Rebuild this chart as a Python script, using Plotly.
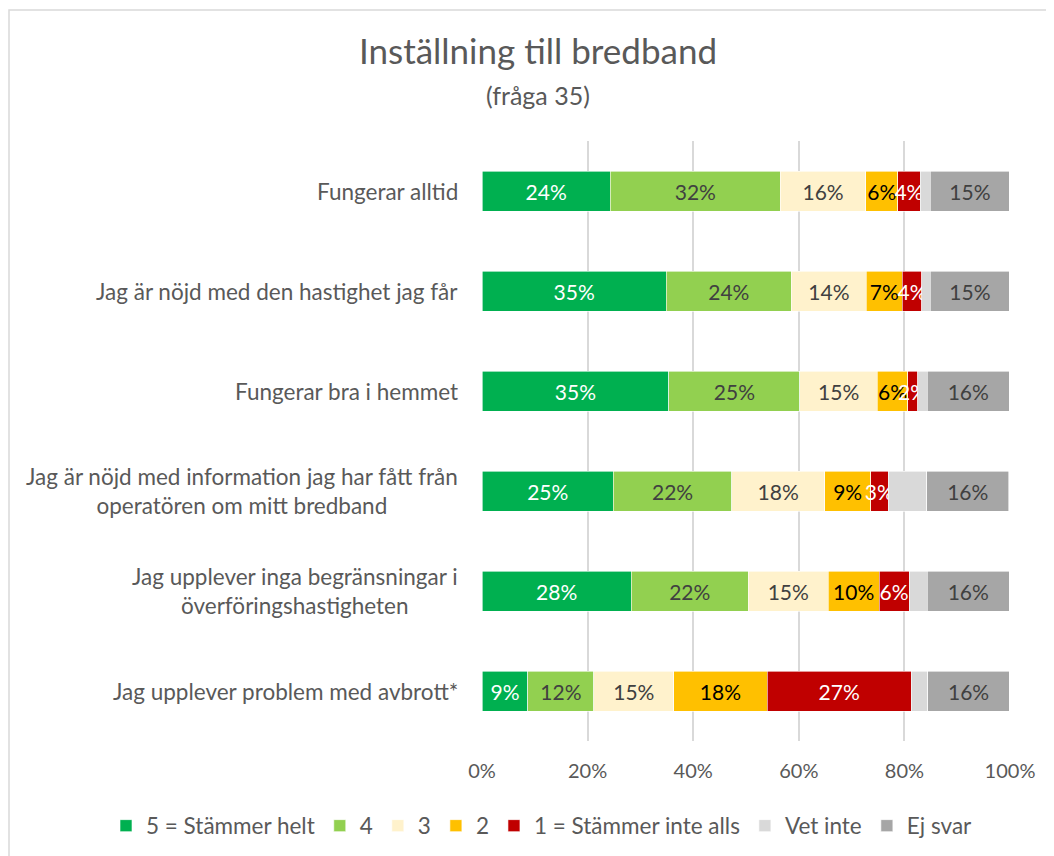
import plotly.graph_objects as go

# Data (percent of respondents)
categories = [
    "Fungerar alltid",
    "Jag är nöjd med den hastighet jag får",
    "Fungerar bra i hemmet",
    "Jag är nöjd med information jag har fått från<br>operatören om mitt bredband",
    "Jag upplever inga begränsningar i<br>överföringshastigheten",
    "Jag upplever problem med avbrott*",
]

s5 = [24.3, 34.9, 35.4, 24.9, 28.3, 8.7]
s4 = [32.2, 23.7, 24.8, 22.4, 22.1, 12.5]
s3 = [16.2, 14.2, 14.7, 17.6, 15.2, 15.1]
s2 = [6.0, 6.8, 5.7, 8.7, 9.6, 17.7]
s1 = [4.3, 3.7, 1.9, 3.3, 5.7, 27.3]
vet_inte = [1.9, 1.6, 1.8, 7.3, 3.4, 3.1]
ej_svar = [15.0, 15.0, 15.6, 15.6, 15.6, 15.5]

series = [
    ("5 = Stämmer helt", s5, "#00B050", "white", True),
    ("4", s4, "#92D050", "#404040", True),
    ("3", s3, "#FFF2CC", "#404040", True),
    ("2", s2, "#FFC000", "black", True),
    ("1 = Stämmer inte alls", s1, "#C00000", "white", True),
    ("Vet inte", vet_inte, "#D9D9D9", "#404040", False),
    ("Ej svar", ej_svar, "#A6A6A6", "#404040", True),
]

FONT = "Lato, Carlito, Calibri, sans-serif"
# page body has an 8px margin, so the figure is 8px smaller each way
W, H = 1046, 848
L, R, T, B = 474, 44, 133, 115
PW, PH = W - L - R, H - T - B

fig = go.Figure()
for name, vals, color, tcolor, show_text in series:
    fig.add_trace(go.Bar(
        y=categories, x=vals, name=name, orientation="h",
        marker=dict(color=color, line=dict(color="white", width=0.6)),
        text=[f"{round(v)}%" for v in vals] if show_text else None,
        textposition="inside" if show_text else "none",
        insidetextanchor="middle",
        textangle=0,
        textfont=dict(color=tcolor, size=21, family=FONT),
        cliponaxis=False,
        hovertemplate="%{y}: %{x}%<extra>" + name + "</extra>",
    ))

# category labels as centred annotations (multi-line labels are centred in the reference)
annotations = [dict(x=(452 - L) / PW, xref="paper", y=c, yref="y", text=c,
                    showarrow=False, xanchor="right", align="center",
                    font=dict(size=22.5, color="#595959", family=FONT))
               for c in categories]
annotations.append(dict(x=0.5, xref="paper", y=1 + (T - 87) / PH, yref="paper",
                        text="(fråga 35)", showarrow=False, yanchor="middle",
                        xshift=530 - (L + PW / 2),
                        font=dict(size=25, color="#595959", family=FONT)))

fig.update_layout(
    barmode="stack",
    bargap=0.6,
    width=W, height=H,
    paper_bgcolor="white", plot_bgcolor="white",
    font=dict(family=FONT, size=20, color="#595959"),
    margin=dict(l=L, r=R, t=T, b=B, autoexpand=False),
    uniformtext=dict(minsize=21, mode="show"),
    title=dict(
        text="Inställning till bredband",
        x=530 / W, xanchor="center", xref="container",
        y=1 - 44 / H, yanchor="middle", yref="container",
        font=dict(size=35, color="#595959", family=FONT),
    ),
    legend=dict(
        orientation="h", x=(98 - L) / PW, xref="paper", xanchor="left",
        y=-(818 - (T + PH)) / PH, yref="paper", yanchor="middle",
        font=dict(size=22.5, color="#595959"),
        traceorder="normal",
        itemwidth=30,
    ),
    xaxis=dict(
        range=[0, 100], tickvals=[0, 20, 40, 60, 80, 100],
        ticktext=["0%", "20%", "40%", "60%", "80%", "100%"],
        showgrid=True, gridcolor="#D9D9D9", gridwidth=1.5,
        zeroline=False, ticks="", ticklabelstandoff=16,
        automargin=False, fixedrange=True,
    ),
    yaxis=dict(
        autorange="reversed", ticks="", showgrid=False,
        showticklabels=False, automargin=False,
    ),
    annotations=annotations,
    shapes=[dict(type="rect", xref="paper", yref="paper",
                 x0=(1 - L) / PW, x1=(W + 20 - L) / PW,
                 y0=-(B + 20) / PH, y1=1 + (T - 2) / PH,
                 line=dict(color="#D9D9D9", width=1.5), layer="below")],
)

fig.write_html("out.html")
